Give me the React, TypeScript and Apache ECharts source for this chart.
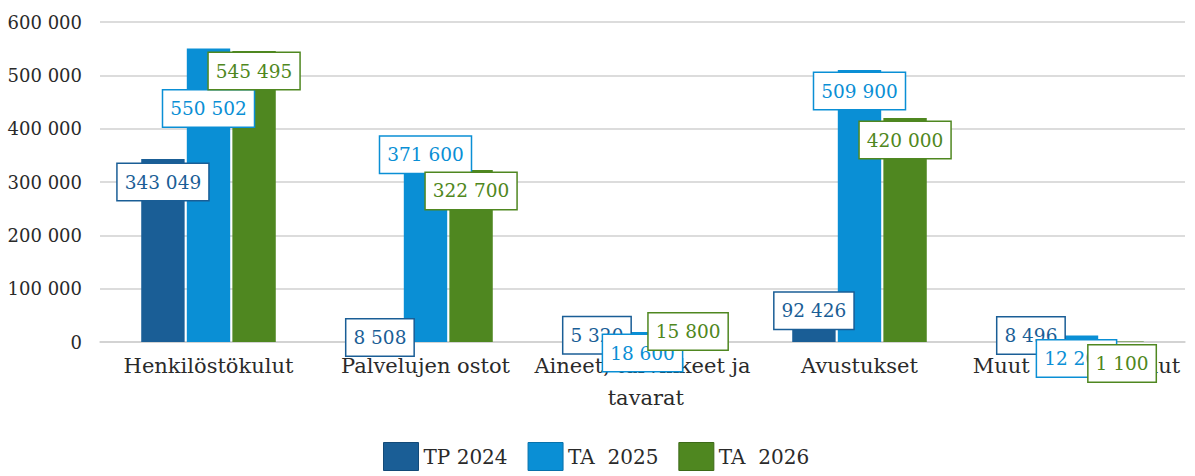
import React, { useEffect, useRef } from "react";
import * as echarts from "echarts";

const categories = [
  "Henkilöstökulut",
  "Palvelujen ostot",
  "Aineet, tarvikkeet ja tavarat",
  "Avustukset",
  "Muut toimintakulut",
];
const seriesNames = ["TP 2024", "TA  2025", "TA  2026"];
const tp2024 = [343049, 8508, 5320, 92426, 8496];
const ta2025 = [550502, 371600, 18600, 509900, 12200];
const ta2026 = [545495, 322700, 15800, 420000, 1100];
const yTicks = { min: 0, max: 600000, interval: 100000 };

// label centre distance below the bar top (px), per series/category
const labelShift = [
  [23, 0, -4, 18, -2],
  [60, 11, 21, 21, 23],
  [20, 21, -2, 22, 22],
];
const colors = ["#1a5e96", "#0a8fd5", "#4f8720"];
const legendBorders = ["#134a78", "#0872ab", "#3d6a18"];

const fmt = (v: number) =>
  String(v).replace(/\B(?=(\d{3})+(?!\d))/g, " ");

const FONT = "DejaVu Serif";

export default function App() {
  const ref = useRef<HTMLDivElement>(null);
  useEffect(() => {
    if (!ref.current) return;
    const chart = echarts.init(ref.current, null, { renderer: "svg" });
    const allData = [tp2024, ta2025, ta2026];
    const series = allData.map((arr, si) => ({
      name: seriesNames[si],
      type: "bar",
      barGap: "5%",
      barCategoryGap: "38%",
      itemStyle: { color: colors[si] },
      data: arr.map((v, ci) => ({
        value: v,
        label: {
          show: true,
          position: ["50%", labelShift[si][ci]],
          align: "center",
          verticalAlign: "middle",
          formatter: () => fmt(v),
          color: colors[si],
          fontFamily: FONT,
          fontSize: 18.5,
          backgroundColor: "#ffffff",
          borderColor: colors[si],
          borderWidth: 1.5,
          padding: [9, 7, 8, 7],
        },
      })),
    }));
    chart.setOption({
      animation: false,
      color: colors,
      grid: { left: 100, right: 10, top: 22, bottom: 134 },
      legend: {
        bottom: 0,
        left: 378,
        itemWidth: 35,
        itemHeight: 28,
        itemGap: 20,
        icon: "rect",
        textStyle: { fontFamily: FONT, fontSize: 20, color: "#2a2a2a" },
        data: seriesNames.map((n, i) => ({
          name: n,
          itemStyle: { borderColor: legendBorders[i], borderWidth: 1 },
        })),
      },
      xAxis: {
        type: "category",
        data: categories,
        axisLine: { lineStyle: { color: "#d0d0d0", width: 1.5 } },
        axisTick: { show: false },
        axisLabel: {
          interval: 0,
          fontFamily: FONT,
          fontSize: 21,
          color: "#2a2a2a",
          margin: 8,
          lineHeight: 32,
          width: 222,
          overflow: "break",
        },
      },
      yAxis: {
        type: "value",
        min: yTicks.min,
        max: yTicks.max,
        interval: yTicks.interval,
        axisLine: { show: false },
        axisTick: { show: false },
        splitLine: { lineStyle: { color: "#d0d0d0", width: 1.5 } },
        axisLabel: {
          formatter: (v: number) => fmt(v),
          fontFamily: FONT,
          fontSize: 18,
          color: "#2a2a2a",
          margin: 18,
        },
      },
      series,
    });
    return () => chart.dispose();
  }, []);
  return (
    <div
      ref={ref}
      style={{ position: "absolute", left: 0, top: 0, width: 1195, height: 476 }}
    />
  );
}
